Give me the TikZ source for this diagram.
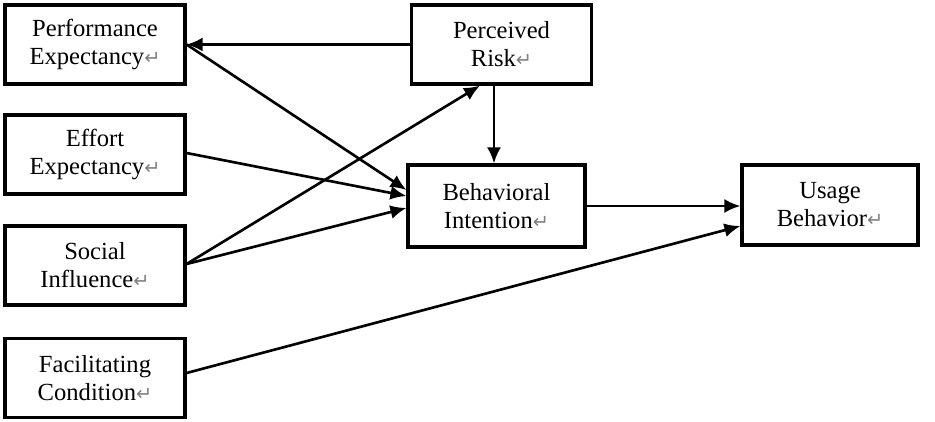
\documentclass[tikz,border=0pt]{standalone}
\usepackage{fontspec}
\setmainfont{Liberation Serif}
\newfontfamily\arrowfont{DejaVu Sans}
\usetikzlibrary{arrows.meta}
\newcommand{\ret}{{\arrowfont\fontsize{11}{11}\selectfont\color{gray}\symbol{"21B5}}}

\begin{document}
\begin{tikzpicture}
    [
    every node/.style       = {font=\fontsize{14}{16}\selectfont},
    factor/.style           = {rectangle, draw, line width=1.8pt, align=center,
                               minimum width=3.6cm, minimum height=1.58cm, inner sep=0pt},
    path/.style             = {line width=1.5pt, -{Latex[length=0.32cm,width=0.28cm]}}
    ]
    \useasboundingbox (0,0) rectangle (18.7,-8.44);
    % constructs
    \node [factor] (pe) at (1.9,-0.89)   {Performance\\Expectancy\ret};
    \node [factor] (ee) at (1.9,-3.09)   {Effort\\Expectancy\ret};
    \node [factor] (si) at (1.9,-5.31)   {Social\\Influence\ret};
    \node [factor] (fc) at (1.9,-7.56)   {Facilitating\\Condition\ret};
    \node [factor] (pr) at (10.03,-0.89) {Perceived\\Risk\ret};
    \node [factor, minimum width=3.54cm, minimum height=1.64cm] (bi) at (9.93,-4.12) {Behavioral\\Intention\ret};
    \node [factor, minimum width=3.52cm, minimum height=1.6cm] (ub) at (16.6,-4.1) {Usage\\Behavior\ret};
    % hypotheses
    \draw [path] (pr.west) -- (pe.east);
    \draw [path] (pe.east) -- ([yshift=0.32cm]bi.west);
    \draw [path] ([yshift=0.03cm]ee.east) -- ([yshift=0.2cm]bi.west);
    \draw [path] ([yshift=0.03cm]si.east) -- ([yshift=-0.04cm]bi.west);
    \draw [path] ([yshift=0.03cm]si.east) -- ([xshift=-0.43cm]pr.south);
    \draw [path] ([xshift=-0.15cm]pr.south) -- ([xshift=-0.15cm]pr.south |- bi.north);
    \draw [path] (bi.east) -- (bi.east -| ub.west);
    \draw [path] ([yshift=0.1cm]fc.east) -- ([yshift=-0.42cm]ub.west);
\end{tikzpicture}
\end{document}
